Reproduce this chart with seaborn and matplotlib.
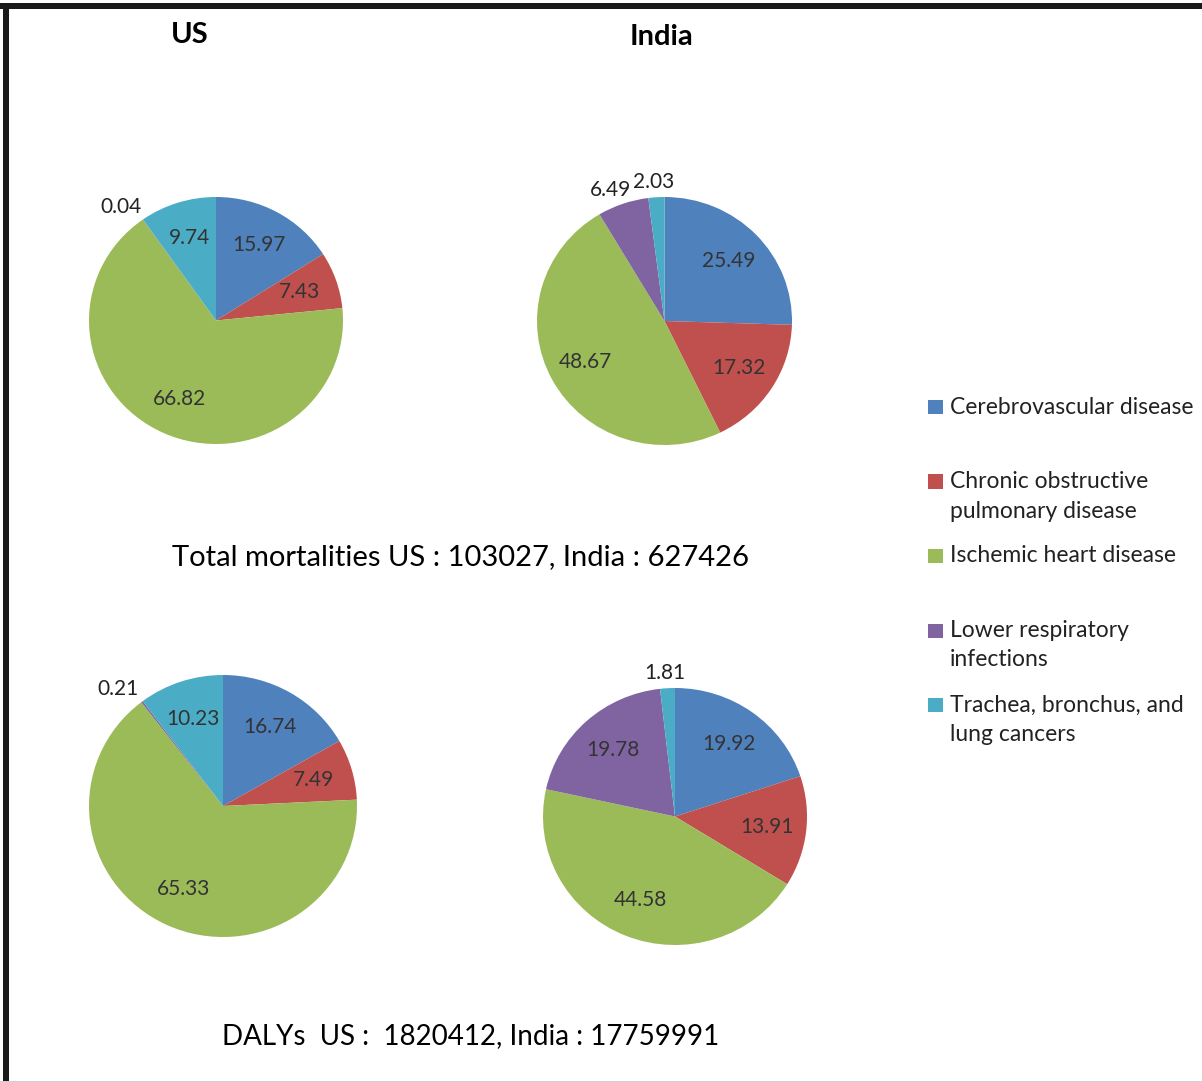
import numpy as np
import matplotlib
matplotlib.use("Agg")
import matplotlib.pyplot as plt
from matplotlib.patches import Rectangle
import seaborn as sns

sns.set_theme(style="white")
plt.rcParams["font.family"] = ["Lato", "DejaVu Sans"]

# Causes of death, in drawing order (clockwise from 12 o'clock)
causes = [
    "Cerebrovascular disease",
    "Chronic obstructive\npulmonary disease",
    "Ischemic heart disease",
    "Lower respiratory\ninfections",
    "Trachea, bronchus, and\nlung cancers",
]
colors = ["#4F81BD", "#C0504D", "#9BBB59", "#8064A2", "#4BACC6"]

# Percent share of each cause
us_mortality = [15.97, 7.43, 66.82, 0.04, 9.74]
india_mortality = [25.49, 17.32, 48.67, 6.49, 2.03]
us_dalys = [16.74, 7.49, 65.33, 0.21, 10.23]
india_dalys = [19.92, 13.91, 44.58, 19.78, 1.81]

W, H = 1202, 1082
fig = plt.figure(figsize=(W / 100, H / 100), dpi=100)
fig.patch.set_facecolor("white")

LIM = 1.45


def pie_axes(cx, cy, rx, ry):
    w, h = 2 * LIM * rx, 2 * LIM * ry
    return fig.add_axes([(cx - w / 2) / W, (H - cy - h / 2) / H, w / W, h / H])


def draw_pie(ax, values, outside_threshold=7.0):
    wedges, _ = ax.pie(values, colors=colors, startangle=90, counterclock=False,
                       radius=1.0, wedgeprops=dict(linewidth=0))
    for w, v in zip(wedges, values):
        mid = np.deg2rad((w.theta1 + w.theta2) / 2)
        if v < outside_threshold:
            x, y = 1.3 * np.cos(mid), 1.12 * np.sin(mid)
            col = "#222222"
        else:
            d = 0.70
            x, y = d * np.cos(mid), d * np.sin(mid)
            col = "#333333"
        ax.text(x, y, f"{v:.2f}", ha="center", va="center", fontsize=15, color=col)
    ax.set_xlim(-LIM, LIM)
    ax.set_ylim(-LIM, LIM)
    ax.set_aspect("auto")
    ax.axis("off")


draw_pie(pie_axes(216, 320.5, 127, 123.5), us_mortality)
draw_pie(pie_axes(664.5, 321, 127.5, 124), india_mortality)
draw_pie(pie_axes(223, 806, 134, 131), us_dalys)
draw_pie(pie_axes(675, 816.5, 132, 128.5), india_dalys)

# Column headings
fig.text(190 / W, 1 - 35 / H, "US", ha="center", va="center", fontsize=21,
         fontweight="bold", color="black")
fig.text(662 / W, 1 - 37 / H, "India", ha="center", va="center", fontsize=21,
         fontweight="bold", color="black")

# Totals under each row
fig.text(461 / W, 1 - 557 / H, "Total mortalities US : 103027, India : 627426",
         ha="center", va="center", fontsize=21, color="black")
fig.text(471 / W, 1 - 1036 / H, "DALYs  US :  1820412, India : 17759991",
         ha="center", va="center", fontsize=20, color="black")

# Legend: one slot per cause, swatch beside the first line of each label
legend_top = 407
legend_step = 74.5
line_gap = 29.5
for i, (name, col) in enumerate(zip(causes, colors)):
    y0 = legend_top + i * legend_step
    fig.patches.append(Rectangle((928 / W, 1 - (y0 + 7) / H), 15 / W, 14 / H,
                                 transform=fig.transFigure, facecolor=col,
                                 edgecolor="none"))
    for j, line in enumerate(name.split("\n")):
        fig.text(950 / W, 1 - (y0 + j * line_gap) / H, line, ha="left",
                 va="center", fontsize=16.5, color="#222222")

# Frame around the figure
fig.patches.append(Rectangle((0, 1 - 9 / H), 1, 6 / H, transform=fig.transFigure,
                             facecolor="#1a1a1a", edgecolor="none"))
fig.patches.append(Rectangle((3 / W, 0), 6 / W, 1 - 3 / H, transform=fig.transFigure,
                             facecolor="#1a1a1a", edgecolor="none"))
fig.patches.append(Rectangle((0, 0), 1, 1.5 / H, transform=fig.transFigure,
                             facecolor="#d0d0d0", edgecolor="none"))

fig.savefig("out.png", dpi=100, facecolor="white")
